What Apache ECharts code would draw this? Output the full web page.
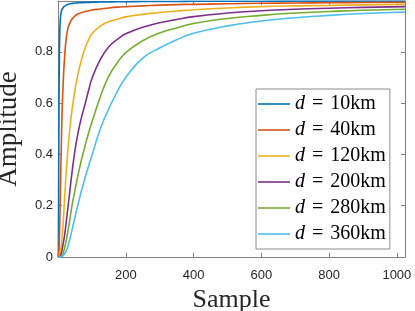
<!DOCTYPE html>
<html>
<head>
<meta charset="utf-8">
<script src="https://cdn.jsdelivr.net/npm/echarts@6/dist/echarts.min.js"></script>
<style>html,body{margin:0;padding:0;background:#fff;}#c{width:415px;height:311px;}</style>
</head>
<body>
<div id="c"></div>
<script>
const samples = [1,2,3,4,5,7,10,12,15,20,25,30,35,40,50,60,70,80,90,100,125,150,175,200,250,300,350,400,500,600,700,800,900,1024];
const distances = [10, 40, 120, 200, 280, 360];
const amp10  = [0,0.3,0.6,0.78,0.86,0.93,0.958,0.965,0.972,0.978,0.982,0.985,0.987,0.988,0.99,0.991,0.9915,0.992,0.9925,0.993,0.994,0.994,0.995,0.995,0.996,0.996,0.996,0.997,0.997,0.997,0.998,0.998,0.998,0.998];
const amp40  = [0,0.01,0.03,0.07,0.12,0.25,0.45,0.56,0.67,0.79,0.86,0.895,0.912,0.925,0.94,0.948,0.953,0.957,0.96,0.963,0.967,0.971,0.974,0.976,0.979,0.982,0.984,0.985,0.987,0.989,0.99,0.991,0.992,0.993];
const amp120 = [0,0.001,0.002,0.004,0.008,0.02,0.05,0.077,0.125,0.24,0.345,0.43,0.5,0.56,0.65,0.72,0.772,0.815,0.846,0.87,0.9,0.917,0.927,0.936,0.946,0.953,0.959,0.964,0.971,0.976,0.979,0.981,0.983,0.985];
const amp200 = [0,0,0,0.0005,0.001,0.004,0.015,0.028,0.05,0.09,0.145,0.2,0.258,0.315,0.415,0.49,0.548,0.597,0.648,0.695,0.77,0.82,0.848,0.87,0.896,0.913,0.926,0.937,0.951,0.96,0.966,0.97,0.973,0.976];
const amp280 = [0,0,0,0,0,0.001,0.004,0.008,0.015,0.038,0.07,0.106,0.147,0.19,0.26,0.325,0.383,0.435,0.482,0.525,0.625,0.705,0.757,0.797,0.843,0.873,0.893,0.91,0.93,0.942,0.951,0.957,0.962,0.966];
const amp360 = [0,0,0,0,0,0,0.001,0.002,0.005,0.013,0.026,0.045,0.07,0.098,0.155,0.21,0.262,0.31,0.354,0.395,0.5,0.578,0.645,0.70,0.775,0.815,0.847,0.872,0.901,0.92,0.933,0.942,0.949,0.955];
const amplitudes = [amp10, amp40, amp120, amp200, amp280, amp360];
const colors = ['#0072BD','#D95319','#EDB120','#7E2F8E','#77AC30','#4DBEEE'];
const xTicks = [200, 400, 600, 800, 1000];
const yTicks = [0, 0.2, 0.4, 0.6, 0.8];

const axisColor = '#808080';
const labelColor = '#262626';

function baseX(pos, labels) {
  return {
    type: 'value', position: pos, min: 0, max: 1024, interval: 200,
    axisLine: {show: true, onZero: false, lineStyle: {color: axisColor, width: 1}},
    axisTick: {show: true, inside: true, length: 4, lineStyle: {color: axisColor}},
    axisLabel: labels ? {
      show: true, margin: 12, color: labelColor, fontFamily: 'Liberation Sans', fontSize: 13,
      showMinLabel: true, showMaxLabel: true,
      formatter: v => xTicks.indexOf(Math.round(v)) >= 0 ? String(Math.round(v)) : ''
    } : {show: false},
    splitLine: {show: false}
  };
}
function baseY(pos, labels) {
  return {
    type: 'value', position: pos, min: 0, max: 0.998, interval: 0.2,
    axisLine: {show: true, onZero: false, lineStyle: {color: axisColor, width: 1}},
    axisTick: {show: true, inside: true, length: 4, lineStyle: {color: axisColor}},
    axisLabel: labels ? {
      show: true, margin: 5, color: labelColor, fontFamily: 'Liberation Sans', fontSize: 13,
      formatter: v => {
        const r = Math.round(v * 10) / 10;
        return (Math.abs(v - r) < 1e-6 && yTicks.indexOf(r) >= 0) ? (r === 0 ? '0' : r.toFixed(1)) : '';
      }
    } : {show: false},
    splitLine: {show: false}
  };
}

const xa0 = baseX('bottom', true);
xa0.name = 'Sample'; xa0.nameLocation = 'middle'; xa0.nameGap = 25;
xa0.nameTextStyle = {fontFamily: 'Liberation Serif', fontSize: 26, color: labelColor};
const ya0 = baseY('left', true);
ya0.name = 'Amplitude'; ya0.nameLocation = 'middle'; ya0.nameGap = 36;
ya0.nameTextStyle = {fontFamily: 'Liberation Serif', fontSize: 27, color: labelColor};

const chart = echarts.init(document.getElementById('c'), null, {renderer: 'canvas'});
chart.setOption({
  animation: false,
  backgroundColor: '#fff',
  grid: {left: 58, right: 10, top: 1, bottom: 54, containLabel: false, outerBoundsMode: 'none'},
  xAxis: [xa0, baseX('top', false)],
  yAxis: [ya0, baseY('right', false)],
  legend: {
    orient: 'vertical', left: 256, top: 89,
    padding: [5, 4, 5, 2],
    backgroundColor: '#fff', borderColor: '#8c8c8c', borderWidth: 1,
    itemWidth: 32, itemHeight: 20, itemGap: 6,
    textStyle: {
      fontFamily: 'Liberation Serif', fontSize: 20, color: '#000', lineHeight: 20,
      rich: {
        i: {fontFamily: 'Liberation Serif', fontSize: 20, fontStyle: 'italic', color: '#000'},
        e: {fontFamily: 'Liberation Serif', fontSize: 20, color: '#000', padding: [0, 7, 0, 7]},
        n: {fontFamily: 'Liberation Serif', fontSize: 20, color: '#000'}
      }
    },
    formatter: name => {
      const d = name.replace('d = ', '');
      return '{i|d}{e|=}{n|' + d + '}';
    },
    data: distances.map(d => ({name: 'd = ' + d + 'km', icon: 'path://M0,0 L32,0 L32,1.6 L0,1.6 Z'}))
  },
  series: distances.map((d, i) => ({
    name: 'd = ' + d + 'km',
    type: 'line',
    xAxisIndex: 0, yAxisIndex: 0,
    data: samples.map((s, k) => [s, amplitudes[i][k]]),
    symbol: 'none',
    smooth: 0.5,
    lineStyle: {color: colors[i], width: 1.6},
    itemStyle: {color: colors[i]},
    z: 2
  }))
});
</script>
</body>
</html>
